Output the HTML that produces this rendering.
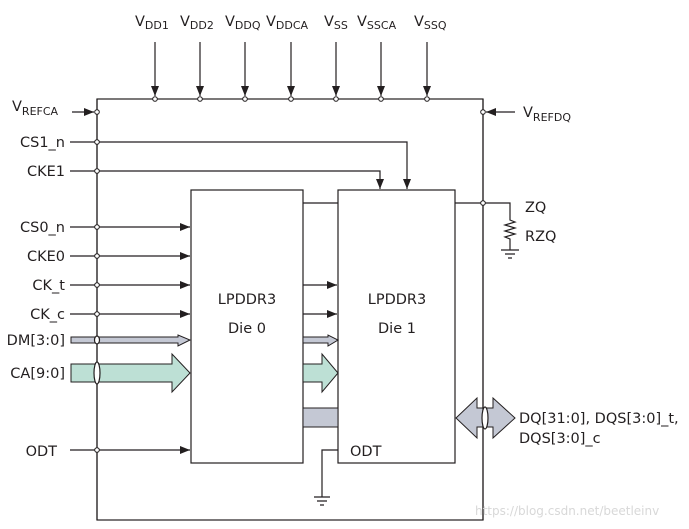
<!DOCTYPE html>
<html><head><style>
body{margin:0;background:#fff}
svg{display:block}
text{font-family:"DejaVu Sans","Liberation Sans",sans-serif;font-size:14.5px;fill:#231f20}
.s{font-size:11px}
</style></head><body>
<svg width="689" height="529" viewBox="0 0 689 529">
<defs><marker id="a" markerWidth="10" markerHeight="8" refX="10" refY="4" orient="auto" markerUnits="userSpaceOnUse"><path d="M0,0L10,4L0,8z" fill="#231f20"/></marker></defs>
<g stroke="#231f20" stroke-width="1.2" fill="none">
<rect x="97" y="99" width="386" height="421"/>
<rect x="191" y="190" width="112" height="273"/>
<rect x="338" y="190" width="117" height="273"/>
</g>
<g stroke="#231f20" stroke-width="1.2" fill="none" marker-end="url(#a)">
<path d="M155,42V96"/><path d="M200,42V96"/><path d="M245,42V96"/><path d="M291,42V96"/><path d="M336,42V96"/><path d="M381,42V96"/><path d="M427,42V96"/>
<path d="M72,112H94"/>
<path d="M515,112H486"/>
<path d="M97,142H407V189"/>
<path d="M97,171H380V189"/>
<path d="M70,227H190"/><path d="M70,256H190"/><path d="M70,285H190"/><path d="M70,314H190"/><path d="M70,450H190"/>
<path d="M303,285H337"/><path d="M303,314H337"/>
</g>
<g stroke="#231f20" stroke-width="1.2" fill="none">
<path d="M70,142H97M70,171H97"/>
<path d="M303,203H338"/>
<path d="M455,203H510V220l5,2l-10,3l10,3l-10,3l10,3l-10,3l5,2V250M501,250H519M505,254H515M508,258H512"/>
<path d="M338,450H322V497M314,497H330M317,501H327M320,505H324"/>
</g>
<path d="M71,337H178V335L190,340L178,346V343H71Z" fill="#c4c8d4" stroke="#231f20" stroke-width="1"/>
<path d="M303,337H328V335L338,340L328,346V343H303Z" fill="#c4c8d4" stroke="#231f20" stroke-width="1"/>
<path d="M71,364H172V354L190,373L172,392V382H71Z" fill="#bde0d5" stroke="#231f20" stroke-width="1"/>
<path d="M303,364H322V354L338,373L322,392V382H303Z" fill="#bde0d5" stroke="#231f20" stroke-width="1"/>
<rect x="303" y="408" width="35" height="19" fill="#c4c8d4" stroke="#231f20" stroke-width="1"/>
<path d="M456,418L477,398V408H493V398L515,418L493,438V427H477V438Z" fill="#c4c8d4" stroke="#231f20" stroke-width="1"/>
<g stroke="#231f20" stroke-width="1.2" fill="#fff">
<line x1="97" y1="99" x2="97" y2="520"/>
<line x1="483" y1="99" x2="483" y2="520"/>
<ellipse cx="97" cy="340" rx="2.5" ry="4"/>
<ellipse cx="97" cy="373" rx="3" ry="11"/>
<ellipse cx="485" cy="418" rx="3" ry="11"/>
<g stroke-width="1">
<circle cx="155" cy="99" r="2.3"/><circle cx="200" cy="99" r="2.3"/><circle cx="245" cy="99" r="2.3"/><circle cx="291" cy="99" r="2.3"/><circle cx="336" cy="99" r="2.3"/><circle cx="381" cy="99" r="2.3"/><circle cx="427" cy="99" r="2.3"/>
<circle cx="97" cy="112" r="2.3"/><circle cx="483" cy="112" r="2.3"/><circle cx="97" cy="142" r="2.3"/><circle cx="97" cy="171" r="2.3"/><circle cx="97" cy="227" r="2.3"/><circle cx="97" cy="256" r="2.3"/><circle cx="97" cy="285" r="2.3"/><circle cx="97" cy="314" r="2.3"/><circle cx="97" cy="450" r="2.3"/><circle cx="483" cy="203" r="2.3"/>
</g></g>
<text x="135" y="26">V<tspan class="s" dy="3">DD1</tspan></text>
<text x="180" y="26">V<tspan class="s" dy="3">DD2</tspan></text>
<text x="225" y="26">V<tspan class="s" dy="3">DDQ</tspan></text>
<text x="266" y="26">V<tspan class="s" dy="3">DDCA</tspan></text>
<text x="324" y="26">V<tspan class="s" dy="3">SS</tspan></text>
<text x="357" y="26">V<tspan class="s" dy="3">SSCA</tspan></text>
<text x="414" y="26">V<tspan class="s" dy="3">SSQ</tspan></text>
<text x="12" y="111">V<tspan class="s" dy="4">REFCA</tspan></text>
<text x="523" y="117">V<tspan class="s" dy="4">REFDQ</tspan></text>
<g text-anchor="end">
<text x="65" y="147">CS1_n</text><text x="65" y="176">CKE1</text>
<text x="65" y="232">CS0_n</text><text x="65" y="261">CKE0</text>
<text x="65" y="290">CK_t</text><text x="65" y="319">CK_c</text>
<text x="65" y="345">DM[3:0]</text><text x="65" y="378">CA[9:0]</text>
<text x="57" y="456">ODT</text>
</g>
<text x="247" y="304" text-anchor="middle">LPDDR3</text>
<text x="247" y="333" text-anchor="middle">Die 0</text>
<text x="397" y="304" text-anchor="middle">LPDDR3</text>
<text x="397" y="333" text-anchor="middle">Die 1</text>
<text x="350" y="456">ODT</text>
<text x="525" y="212">ZQ</text>
<text x="525" y="241">RZQ</text>
<text x="519" y="423">DQ[31:0], DQS[3:0]_t,</text>
<text x="519" y="443">DQS[3:0]_c</text>
<text x="475" y="515" style="font-size:12px;fill:#d8d8d8">https://blog.csdn.net/beetleinv</text>
</svg>
</body></html>
